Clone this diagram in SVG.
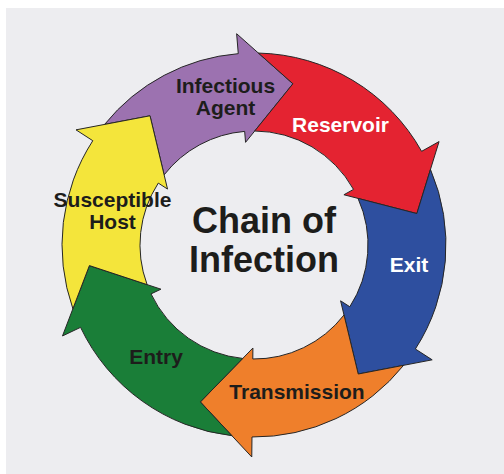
<svg xmlns="http://www.w3.org/2000/svg" width="504" height="474" viewBox="0 0 504 474">
<style>
.arrow{stroke:#262626;stroke-width:1;stroke-linejoin:miter}
.lbl{font-family:"Liberation Sans",Arial,sans-serif;font-weight:bold;font-size:21px;text-anchor:middle;fill:#1d1d1b}
.w{fill:#ffffff}
.title{font-family:"Liberation Sans",Arial,sans-serif;font-weight:bold;font-size:36px;text-anchor:middle;fill:#1d1d1b}
</style>
<rect x="0" y="0" width="504" height="474" fill="#ffffff"/>
<rect x="6" y="8" width="498" height="466" fill="#EDEDF0"/>
<g id="connectors"></g>
<g id="infectious-agent">
<path class="arrow" fill="#9C72B0" d="M 104.59 124.42 A 192 192 0 0 1 238.27 53.65 L 236.63 33.71 L 292.92 83.77 L 245.56 142.35 L 244.66 131.38 A 114 114 0 0 0 164.13 174.86 L 150.0 115.79 Z"/>
<text class="lbl" x="225.5" y="93">Infectious</text>
<text class="lbl" x="225.5" y="115">Agent</text>
</g>
<g id="reservoir">
<path class="arrow" fill="#E42331" d="M 258.38 53.05 A 192 192 0 0 1 421.60 151.33 L 439.06 141.57 L 416.85 213.55 L 343.91 194.75 L 353.51 189.38 A 114 114 0 0 0 254.73 131.0 L 292.92 83.77 Z"/>
<text class="lbl w" x="340.5" y="132">Reservoir</text>
</g>
<g id="exit">
<path class="arrow" fill="#2E4F9F" d="M 430.48 169.38 A 192 192 0 0 1 415.39 349.01 L 432.20 359.84 L 358.22 374.03 L 340.58 300.80 L 349.82 306.75 A 114 114 0 0 0 358.04 198.39 L 416.85 213.55 Z"/>
<text class="lbl w" x="409" y="272">Exit</text>
</g>
<g id="transmission">
<path class="arrow" fill="#EF7F2B" d="M 403.62 365.32 A 192 192 0 0 1 251.99 436.99 L 251.78 456.99 L 200.36 401.95 L 252.92 347.99 L 252.81 358.99 A 114 114 0 0 0 344.00 314.98 L 358.22 374.03 Z"/>
<text class="lbl" x="297" y="399">Transmission</text>
</g>
<g id="entry">
<path class="arrow" fill="#1A7E38" d="M 231.91 435.73 A 192 192 0 0 1 80.55 327.36 L 62.49 335.94 L 89.42 265.59 L 160.95 289.18 L 151.02 293.90 A 114 114 0 0 0 242.74 358.44 L 200.36 401.95 Z"/>
<text class="lbl" x="156" y="364">Entry</text>
</g>
<g id="susceptible-host">
<path class="arrow" fill="#F4E53B" d="M 72.89 308.76 A 192 192 0 0 1 92.79 140.71 L 76.0 129.85 L 150.0 115.79 L 167.52 189.05 L 158.28 183.08 A 114 114 0 0 0 147.10 284.61 L 89.42 265.59 Z"/>
<text class="lbl" x="112.5" y="207">Susceptible</text>
<text class="lbl" x="112.5" y="229">Host</text>
</g>
<g id="title">
<text class="title" x="264" y="233">Chain of</text>
<text class="title" x="264" y="272">Infection</text>
</g>
</svg>
